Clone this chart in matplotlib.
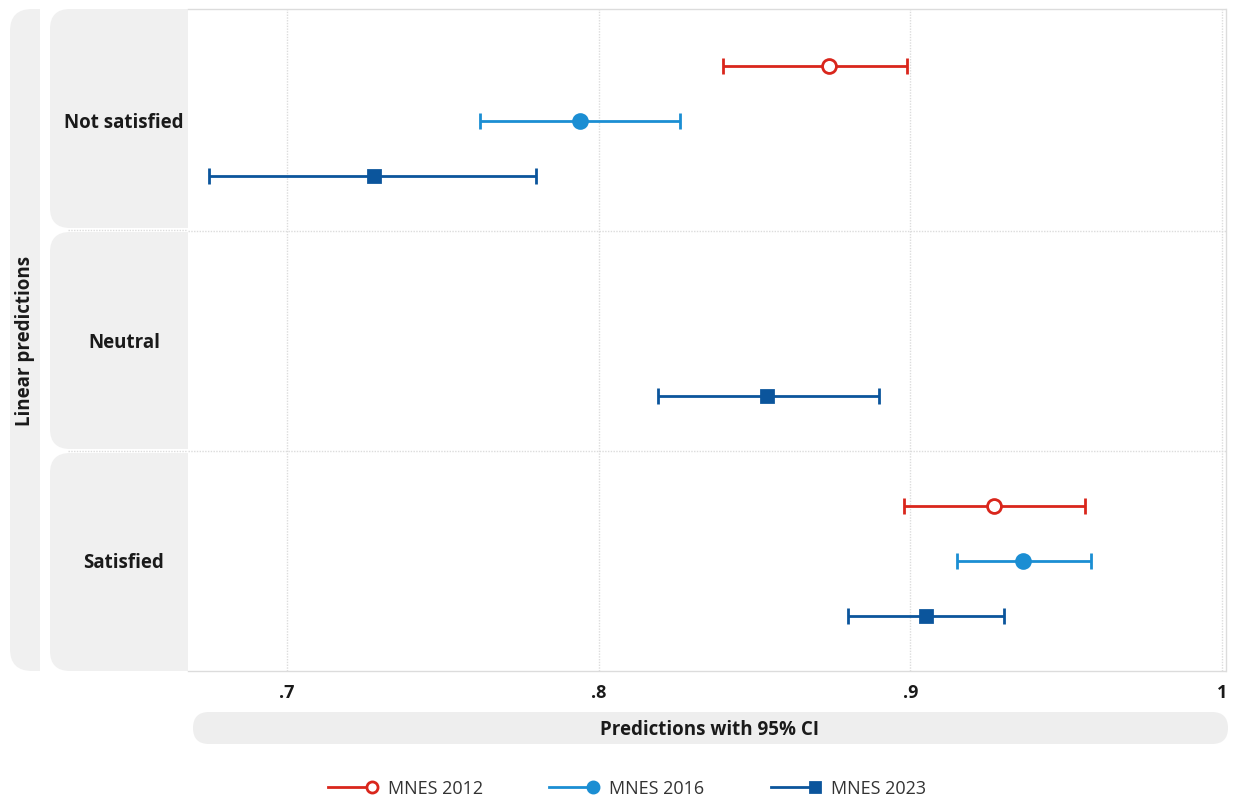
import numpy as np
import matplotlib
matplotlib.use("Agg")
import matplotlib.pyplot as plt
from matplotlib.path import Path
from matplotlib.patches import PathPatch, FancyBboxPatch

plt.rcParams['font.family'] = ['Open Sans', 'DejaVu Sans']

# data
categories = ['Not satisfied', 'Neutral', 'Satisfied']
series = ['MNES 2012', 'MNES 2016', 'MNES 2023']
est_2012 = [0.874, np.nan, 0.927]
lo_2012 = [0.840, np.nan, 0.898]
hi_2012 = [0.899, np.nan, 0.956]
est_2016 = [0.794, np.nan, 0.936]
lo_2016 = [0.762, np.nan, 0.915]
hi_2016 = [0.826, np.nan, 0.958]
est_2023 = [0.728, 0.854, 0.905]
lo_2023 = [0.675, 0.819, 0.880]
hi_2023 = [0.780, 0.890, 0.930]
xticks = [0.7, 0.8, 0.9, 1.0]
xticklabels = ['.7', '.8', '.9', '1']

colors = ['#d9261c', '#1b8ed3', '#0b559c']
markers = ['o', 'o', 's']
faces = ['white', '#1b8ed3', '#0b559c']
sizes = [10, 10, 9]

W, H = 1233, 803
fig = plt.figure(figsize=(W / 100, H / 100), dpi=100)

# background layer in pixel coordinates
bg = fig.add_axes([0, 0, 1, 1], zorder=0)
bg.set_xlim(0, W)
bg.set_ylim(H, 0)
bg.axis('off')


def left_round_box(ax, x0, y0, x1, y1, r, color):
    verts = [(x1, y0), (x0 + r, y0), (x0, y0), (x0, y0 + r),
             (x0, y1 - r), (x0, y1), (x0 + r, y1), (x1, y1), (x1, y0)]
    codes = [Path.MOVETO, Path.LINETO, Path.CURVE3, Path.CURVE3,
             Path.LINETO, Path.CURVE3, Path.CURVE3, Path.LINETO, Path.CLOSEPOLY]
    ax.add_patch(PathPatch(Path(verts, codes), facecolor=color, edgecolor='none'))


panel = '#f0f0f0'
txt = '#1a1a1a'
left_round_box(bg, 10, 10, 40, 672, 22, panel)
bg.text(25, 341, 'Linear predictions', rotation=90, ha='center', va='center',
        fontsize=13.5, fontweight='bold', color=txt)

row_spans = [(10, 229), (233, 450), (454, 672)]
label_y = [122, 342, 562]
for (y0, y1), ly, cat in zip(row_spans, label_y, categories):
    left_round_box(bg, 50, y0, 200, y1, 20, panel)
    bg.text(124, ly + 1, cat, ha='center', va='center',
            fontsize=13.5, fontweight='bold', color=txt)
for yy in [231, 452]:
    bg.plot([68, 200], [yy, yy], color='#dcdcdc', lw=1, ls=(0, (1, 1)))

bg.add_patch(FancyBboxPatch((193, 713), 1035, 32,
                            boxstyle='round,pad=0,rounding_size=16',
                            facecolor='#eeeeee', edgecolor='none'))
bg.text(710, 730, 'Predictions with 95% CI', ha='center', va='center',
        fontsize=13.5, fontweight='bold', color=txt)

# legend drawn by hand so the marker sits at the line end
leg_x = [328, 549, 771]
for lx, c, m, f, s, name in zip(leg_x, colors, markers, faces, sizes, series):
    bg.plot([lx, lx + 44], [788, 788], color=c, lw=2)
    bg.plot([lx + 44], [788], marker=m, color=c, mfc=f, mew=2, ms=s - 2)
    bg.text(lx + 60, 789, name, ha='left', va='center', fontsize=13,
            color='#333333')

# main plot area
ax = fig.add_axes([188 / W, 1 - 672 / H, (1226 - 188) / W, (672 - 10) / H], zorder=1)
ax.set_facecolor('white')
ax.set_xlim(0.6682, 1.0013)
ax.set_ylim(12, -2 / 55)

y_center = np.array([2, 6, 10])
offsets = [-1, 0, 1]
all_est = [est_2012, est_2016, est_2023]
all_lo = [lo_2012, lo_2016, lo_2023]
all_hi = [hi_2012, hi_2016, hi_2023]
for est, lo, hi, off, c, m, f, s in zip(all_est, all_lo, all_hi, offsets,
                                        colors, markers, faces, sizes):
    est = np.array(est)
    err = np.array([est - np.array(lo), np.array(hi) - est])
    ax.errorbar(est, y_center + off, xerr=err, fmt=m, color=c, mfc=f, mec=c,
                mew=2, ms=s, elinewidth=2, capsize=6, capthick=2.4, zorder=3)

ax.set_xticks(xticks)
ax.set_xticklabels(xticklabels, fontsize=13, fontweight='bold', color=txt)
ax.tick_params(axis='x', length=0, pad=9)
ax.set_yticks([])
for xv in xticks:
    ax.axvline(xv, color='#dcdcdc', lw=1, ls=(0, (1, 1)), zorder=1)
for yv in [4, 8]:
    ax.axhline(yv, color='#dcdcdc', lw=1, ls=(0, (1, 1)), zorder=1)
for side in ['top', 'right', 'bottom']:
    ax.spines[side].set_color('#dcdcdc')
    ax.spines[side].set_linestyle((0, (1, 1)))
    ax.spines[side].set_linewidth(1)
ax.spines['left'].set_visible(False)

fig.savefig('out.png', dpi=100, facecolor='white')
